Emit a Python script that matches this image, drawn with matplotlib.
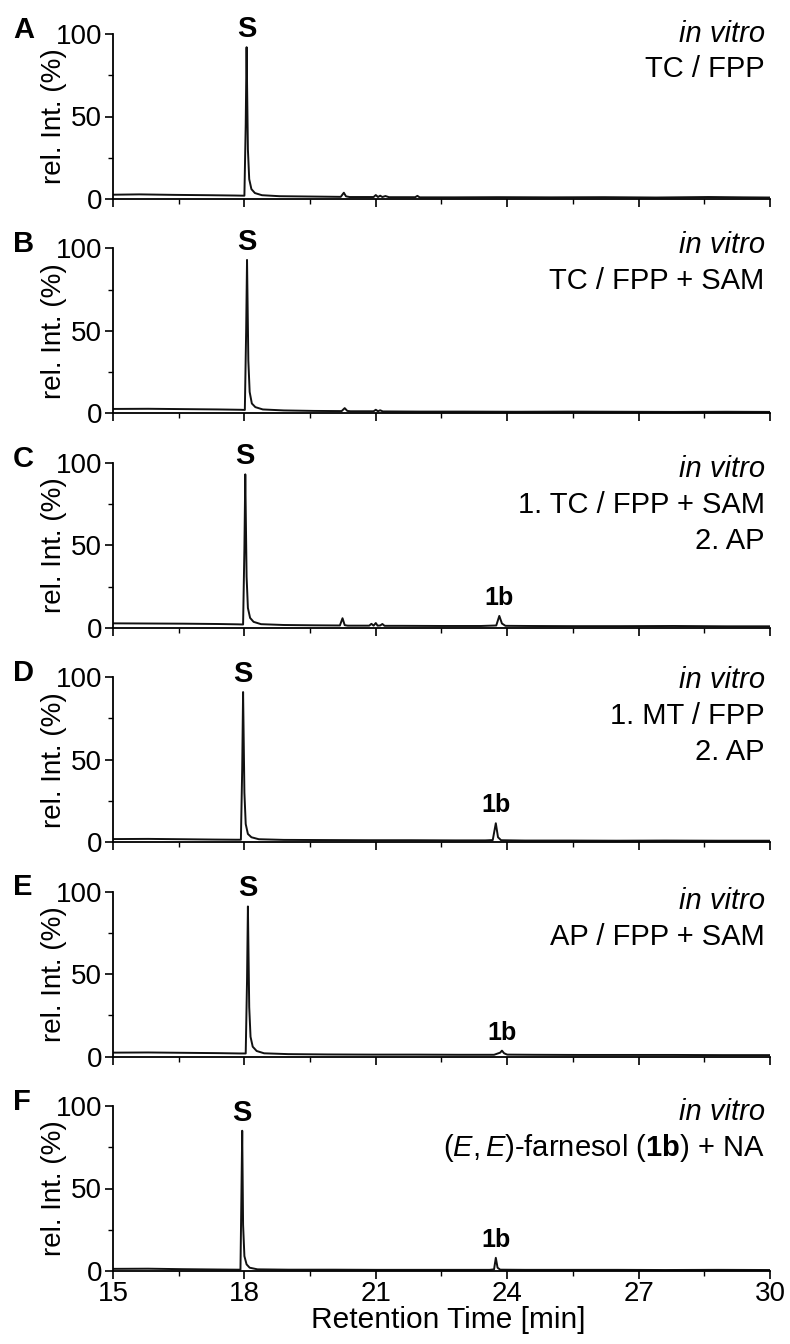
import matplotlib
matplotlib.use("Agg")
import numpy as np
import matplotlib.pyplot as plt
from matplotlib.ticker import MultipleLocator

plt.rcParams['font.family'] = ['Liberation Sans', 'DejaVu Sans']
plt.rcParams['mathtext.fontset'] = 'custom'
plt.rcParams['mathtext.rm'] = 'Liberation Sans'
plt.rcParams['mathtext.it'] = 'Liberation Sans:italic'
plt.rcParams['mathtext.bf'] = 'Liberation Sans:bold'

# GC traces: retention time (min) and relative intensity (%)
rt_a = [15.0, 15.6, 16.4, 17.2, 17.8, 18.00, 18.03, 18.05, 18.08, 18.11, 18.16, 18.24, 18.40,
        18.8, 19.5, 20.20, 20.27, 20.32, 20.40, 20.95, 21.00, 21.05, 21.10, 21.15, 21.22, 21.30,
        21.90, 21.95, 22.00, 22.8, 23.8, 25.0, 26.2, 27.4, 28.6, 29.4, 30.0]
int_a = [2.6, 2.8, 2.5, 2.3, 2.1, 2.0, 45, 92, 30, 12, 6, 3.6, 2.3,
         1.7, 1.5, 1.3, 3.8, 1.6, 1.2, 1.2, 2.4, 1.2, 2.0, 1.2, 1.8, 1.1,
         1.1, 1.9, 1.0, 1.0, 1.1, 1.0, 1.1, 0.9, 1.2, 1.0, 0.9]

rt_b = [15.0, 15.8, 16.6, 17.4, 17.9, 18.01, 18.04, 18.06, 18.09, 18.12, 18.17, 18.25, 18.42,
        18.9, 19.6, 20.22, 20.29, 20.35, 20.42, 20.95, 21.00, 21.05, 21.10, 21.16, 21.24,
        22.0, 23.0, 24.2, 25.4, 26.6, 27.8, 29.0, 30.0]
int_b = [2.7, 2.8, 2.6, 2.4, 2.2, 2.1, 50, 93, 32, 13, 6, 3.8, 2.4,
         1.8, 1.5, 1.4, 3.2, 1.5, 1.3, 1.3, 2.2, 1.3, 1.9, 1.2, 1.2,
         1.1, 1.1, 1.0, 1.1, 1.0, 0.9, 1.0, 0.9]

rt_c = [15.0, 15.8, 16.6, 17.4, 17.85, 17.97, 18.00, 18.02, 18.05, 18.08, 18.13, 18.21, 18.38,
        18.9, 19.6, 20.18, 20.24, 20.29, 20.36, 20.85, 20.90, 20.95, 21.00, 21.04, 21.10, 21.15,
        21.20, 21.6, 22.5, 23.4, 23.75, 23.82, 23.88, 23.96, 24.5, 25.5, 26.6, 27.8, 29.0, 30.0]
int_c = [2.7, 2.6, 2.5, 2.3, 2.1, 2.0, 48, 93, 31, 12, 6, 3.6, 2.2,
         1.7, 1.5, 1.4, 5.8, 1.6, 1.3, 1.3, 2.4, 1.3, 2.9, 1.3, 1.4, 2.3,
         1.2, 1.2, 1.1, 1.1, 1.4, 7.2, 2.6, 1.2, 1.1, 1.0, 1.0, 1.1, 0.9, 0.9]

rt_d = [15.0, 15.8, 16.6, 17.3, 17.8, 17.92, 17.95, 17.97, 18.00, 18.03, 18.08, 18.16, 18.33,
        18.9, 19.8, 20.8, 21.8, 22.8, 23.5, 23.67, 23.74, 23.79, 23.86,
        24.4, 25.4, 26.5, 27.6, 28.8, 30.0]
int_d = [1.9, 2.0, 1.8, 1.6, 1.5, 1.5, 45, 91, 30, 11, 5, 3.0, 1.8,
         1.4, 1.3, 1.2, 1.2, 1.1, 1.1, 1.3, 11.5, 3.0, 1.2,
         1.0, 1.0, 0.9, 1.0, 0.9, 0.9]

rt_e = [15.0, 15.8, 16.6, 17.4, 17.9, 18.03, 18.06, 18.08, 18.11, 18.14, 18.19, 18.28, 18.45,
        19.0, 19.9, 20.9, 21.9, 22.9, 23.7, 23.84, 23.88, 23.93, 24.0,
        24.6, 25.6, 26.7, 27.8, 28.9, 30.0]
int_e = [2.4, 2.5, 2.3, 2.1, 1.9, 1.9, 46, 91, 30, 12, 6, 3.4, 2.0,
         1.5, 1.3, 1.2, 1.2, 1.1, 1.1, 2.4, 3.6, 2.0, 1.2,
         1.1, 1.0, 1.0, 1.0, 0.9, 0.9]

rt_f = [15.0, 15.8, 16.6, 17.4, 17.85, 17.91, 17.93, 17.95, 17.97, 18.00, 18.05, 18.12, 18.3,
        19.0, 20.0, 21.0, 22.0, 23.0, 23.6, 23.70, 23.74, 23.78, 23.84,
        24.4, 25.4, 26.5, 27.6, 28.8, 30.0]
int_f = [1.3, 1.4, 1.1, 0.9, 0.8, 0.8, 42, 85, 28, 9, 4, 2.0, 1.0,
         0.8, 0.8, 0.7, 0.7, 0.7, 0.7, 1.0, 8.0, 2.0, 0.8,
         0.7, 0.7, 0.7, 0.6, 0.7, 0.6]

panel_ids = ['A', 'B', 'C', 'D', 'E', 'F']
traces = [(rt_a, int_a), (rt_b, int_b), (rt_c, int_c),
          (rt_d, int_d), (rt_e, int_e), (rt_f, int_f)]
# retention time of farnesol (1b) where it shows up
rt_1b = [None, None, 23.82, 23.74, 23.88, 23.74]
conditions = [
    ['TC / FPP'],
    ['TC / FPP + SAM'],
    ['1. TC / FPP + SAM', '2. AP'],
    ['1. MT / FPP', '2. AP'],
    ['AP / FPP + SAM'],
    [r'($\mathit{E,E}$)-farnesol ($\mathbf{1b}$) + NA'],
]
cond_y = [1.003, 1.02, 0.964, 0.98, 0.945, 0.963]

W, H = 790, 1344
LEFT, RIGHT = 113, 770
TOP0, STEP, AX_H = 34, 214.4, 165
FS = 20

fig = plt.figure(figsize=(W / 100, H / 100), dpi=100)

for i, (pid, (rt, inten)) in enumerate(zip(panel_ids, traces)):
    top = TOP0 + STEP * i
    ax = fig.add_axes([LEFT / W, 1 - (top + AX_H) / H, (RIGHT - LEFT) / W, AX_H / H])
    ax.plot(rt, inten, color='#111111', lw=1.4)
    ax.set_xlim(15, 30)
    ax.set_ylim(0, 100)

    for s in ['top', 'right']:
        ax.spines[s].set_visible(False)
    for s in ['left', 'bottom']:
        ax.spines[s].set_linewidth(1.3)
    ax.xaxis.set_major_locator(MultipleLocator(3))
    ax.xaxis.set_minor_locator(MultipleLocator(1.5))
    ax.yaxis.set_major_locator(MultipleLocator(50))
    ax.yaxis.set_minor_locator(MultipleLocator(25))
    ax.tick_params(which='major', length=6, width=1.2, labelsize=FS, pad=2)
    ax.tick_params(axis='x', pad=1)
    ax.tick_params(which='minor', length=3.5, width=1.0)
    if i < len(panel_ids) - 1:
        ax.tick_params(labelbottom=False)
    else:
        ax.set_xlabel('Retention Time [min]', fontsize=FS + 1.5)
        ax.xaxis.set_label_coords(0.511, -0.213)

    ax.set_ylabel('rel. Int. (%)', fontsize=FS)
    ax.yaxis.set_label_coords(-0.07, 0.5)

    ax.text(-0.152, 1.025, pid, transform=ax.transAxes, fontsize=FS + 1,
            fontweight='bold', ha='left', va='center')

    # substrate peak S
    k = int(np.argmax(inten))
    ax.text(rt[k], inten[k] + 11, 'S', fontsize=FS + 1, fontweight='bold',
            ha='center', va='center')

    # product peak 1b
    if rt_1b[i] is not None:
        near = [v for t, v in zip(rt, inten) if abs(t - rt_1b[i]) < 0.05]
        ax.text(rt_1b[i], max(near) + 11, '1b', fontsize=FS - 2, fontweight='bold',
                ha='center', va='center')

    # assay conditions
    lines = ['in vitro'] + conditions[i]
    for j, line in enumerate(lines):
        ax.text(0.992, cond_y[i] - 0.218 * j, line, transform=ax.transAxes,
                fontsize=FS + 1, ha='right', va='center',
                style='italic' if j == 0 else 'normal')

fig.savefig('out.png', dpi=100)
